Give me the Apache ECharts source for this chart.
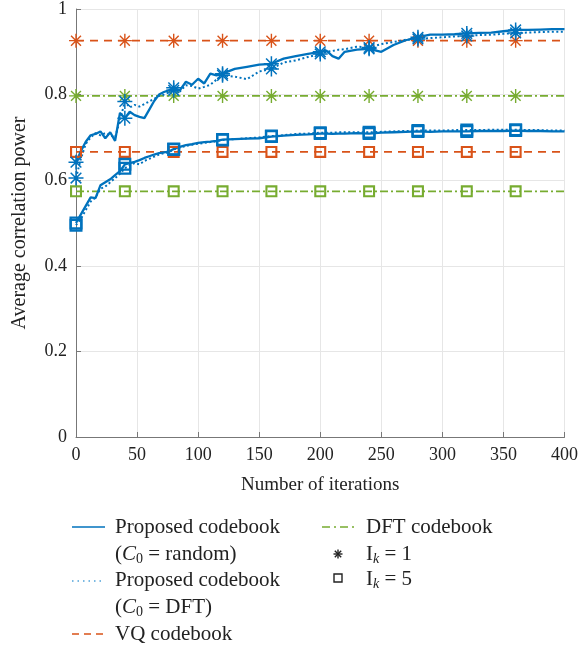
<!DOCTYPE html>
<html>
<head>
<meta charset="utf-8">
<script src="https://cdn.jsdelivr.net/npm/echarts@6/dist/echarts.min.js"></script>
<style>
  html, body { margin: 0; padding: 0; background: #fff; }
  #main { width: 581px; height: 647px; }
</style>
</head>
<body>
<div id="main"></div>
<script>
// iterations at which the proposed-codebook curves are sampled
var iters = [0, 4, 8, 12, 16, 20, 24, 28, 32, 36, 40, 44, 48, 52, 56, 60, 64, 68, 72, 76,
  80, 85, 90, 95, 100, 105, 110, 115, 120, 130, 140, 150, 160, 170, 180, 190, 200,
  205, 210, 215, 220, 230, 240, 250, 260, 270, 280, 290, 300, 310, 320, 330, 340,
  350, 360, 370, 380, 390, 400];

// proposed codebook, C0 = random, Ik = 1
var randomIk1 = [0.642, 0.668, 0.69, 0.705, 0.708, 0.714, 0.698, 0.712, 0.692, 0.757,
  0.745, 0.76, 0.752, 0.748, 0.745, 0.765, 0.785, 0.8, 0.806, 0.81,
  0.816, 0.81, 0.83, 0.823, 0.837, 0.826, 0.849, 0.845, 0.849, 0.86, 0.865, 0.87,
  0.872, 0.884, 0.89, 0.895, 0.9, 0.903, 0.89, 0.884, 0.9, 0.905, 0.907, 0.9,
  0.916, 0.927, 0.934, 0.94, 0.94, 0.941, 0.943, 0.944, 0.945, 0.948, 0.951,
  0.951, 0.952, 0.953, 0.953];
// proposed codebook, C0 = DFT, Ik = 1
var dftIk1 = [0.605, 0.65, 0.685, 0.7, 0.71, 0.705, 0.71, 0.705, 0.7, 0.74,
  0.784, 0.77, 0.776, 0.772, 0.778, 0.784, 0.79, 0.797, 0.8, 0.805,
  0.81, 0.807, 0.822, 0.82, 0.814, 0.818, 0.823, 0.835, 0.845, 0.842, 0.836, 0.854,
  0.86, 0.875, 0.88, 0.888, 0.895, 0.9, 0.902, 0.905, 0.906, 0.912, 0.91, 0.918,
  0.923, 0.928, 0.93, 0.932, 0.934, 0.936, 0.937, 0.939, 0.94, 0.942, 0.944,
  0.945, 0.946, 0.947, 0.947];
// proposed codebook, C0 = random, Ik = 5
var randomIk5 = [0.5, 0.52, 0.54, 0.56, 0.558, 0.588, 0.595, 0.602, 0.612, 0.621,
  0.637, 0.64, 0.643, 0.647, 0.652, 0.656, 0.66, 0.663, 0.665, 0.667,
  0.673, 0.678, 0.682, 0.684, 0.687, 0.689, 0.69, 0.692, 0.695, 0.696, 0.697, 0.698,
  0.702, 0.704, 0.706, 0.707, 0.709, 0.709, 0.708, 0.709, 0.709, 0.71, 0.709, 0.711,
  0.712, 0.713, 0.714, 0.713, 0.714, 0.714, 0.714, 0.715, 0.715, 0.715, 0.716,
  0.715, 0.715, 0.714, 0.714];
// proposed codebook, C0 = DFT, Ik = 5
var dftIk5 = [0.495, 0.51, 0.53, 0.55, 0.56, 0.58, 0.585, 0.595, 0.605, 0.615,
  0.628, 0.635, 0.64, 0.637, 0.645, 0.65, 0.655, 0.66, 0.663, 0.665,
  0.672, 0.676, 0.68, 0.683, 0.685, 0.687, 0.689, 0.691, 0.694, 0.696, 0.698, 0.7,
  0.703, 0.705, 0.708, 0.709, 0.711, 0.711, 0.711, 0.712, 0.712, 0.712, 0.712, 0.713,
  0.714, 0.715, 0.716, 0.716, 0.716, 0.717, 0.717, 0.717, 0.718, 0.718, 0.718,
  0.717, 0.717, 0.716, 0.716];

// flat baselines
var constIters = [0, 40, 80, 120, 160, 200, 240, 280, 320, 360, 400];
var vqIk1 = 0.926, vqIk5 = 0.666, dftCbIk1 = 0.797, dftCbIk5 = 0.574;

var xTicks = [0, 50, 100, 150, 200, 250, 300, 350, 400];
var yTicks = [0, 0.2, 0.4, 0.6, 0.8, 1];

var BLUE = '#0072BD', ORANGE = '#D95319', GREEN = '#77AC30';
var FONT = 'Liberation Serif';

var STAR = 'path://M9,0L11,0L11,20L9,20Z M0,9L20,9L20,11L0,11Z ' +
  'M3.6,2.2L17.8,16.4L16.4,17.8L2.2,3.6Z M16.4,2.2L17.8,3.6L3.6,17.8L2.2,16.4Z';
var SQUARE = 'path://M0,0L20,0L20,20L0,20Z M3.5,3.5L3.5,16.5L16.5,16.5L16.5,3.5Z';

function pairs(xs, ys) {
  return xs.map(function (x, i) { return [x, Array.isArray(ys) ? ys[i] : ys]; });
}
function markerAt(shape) {
  return function (v) { return (v[0] % 40 === 0 && v[0] < 400) ? shape : 'none'; };
}
function lineSeries(data, color, type, width, shape, size) {
  return {
    type: 'line', data: data, showAllSymbol: true,
    symbol: markerAt(shape), symbolSize: size,
    lineStyle: { color: color, width: width, type: type },
    itemStyle: { color: color },
    emphasis: { disabled: true }, silent: true
  };
}

var series = [
  lineSeries(pairs(constIters, dftCbIk5), GREEN, [8, 3, 2, 3], 1.8, SQUARE, 12),
  lineSeries(pairs(constIters, dftCbIk1), GREEN, [8, 3, 2, 3], 1.8, STAR, 14),
  lineSeries(pairs(constIters, vqIk5), ORANGE, [8, 6], 1.8, SQUARE, 12),
  lineSeries(pairs(constIters, vqIk1), ORANGE, [8, 6], 1.8, STAR, 14),
  lineSeries(pairs(iters, dftIk5), BLUE, [2, 2.5], 2, SQUARE, 13),
  lineSeries(pairs(iters, randomIk5), BLUE, 'solid', 2.3, SQUARE, 13),
  lineSeries(pairs(iters, dftIk1), BLUE, [2, 2.5], 2, STAR, 15),
  lineSeries(pairs(iters, randomIk1), BLUE, 'solid', 2.3, STAR, 15)
];

var LF = 21;
var rich = {
  n: { fontFamily: FONT, fontSize: LF, lineHeight: 25, fill: '#222' },
  i: { fontFamily: FONT, fontSize: LF, lineHeight: 25, fontStyle: 'italic', fill: '#222' },
  s: { fontFamily: FONT, fontSize: 14, lineHeight: 14, verticalAlign: 'bottom', fill: '#222' },
  si: { fontFamily: FONT, fontSize: 14, lineHeight: 14, fontStyle: 'italic', verticalAlign: 'bottom', fill: '#222' }
};
function label(x, y, text) {
  return { type: 'text', x: x, y: y, silent: true,
    style: { text: text, rich: rich, fontFamily: FONT, fontSize: LF, fill: '#222', verticalAlign: 'middle' } };
}
function key(x1, x2, y, color, dash) {
  return { type: 'line', silent: true, shape: { x1: x1, y1: y, x2: x2, y2: y },
    style: { stroke: color, lineWidth: 1.5, lineDash: dash } };
}
// small asterisk used as legend key
function asterisk(cx, cy, r) {
  var d = r * 0.707;
  var segs = [[-r, 0, r, 0], [0, -r, 0, r], [-d, -d, d, d], [-d, d, d, -d]];
  return segs.map(function (s) {
    return { type: 'line', silent: true,
      shape: { x1: cx + s[0], y1: cy + s[1], x2: cx + s[2], y2: cy + s[3] },
      style: { stroke: '#222', lineWidth: 1.4 } };
  });
}

var graphics = [
  key(72, 105, 527, BLUE, null),
  label(115, 527, '{n|Proposed codebook}'),
  label(115, 554, '{n|(}{i|C}{s|0}{n| = random)}'),
  key(72, 105, 581, '#4fa3d9', [1.5, 4]),
  label(115, 580, '{n|Proposed codebook}'),
  label(115, 607, '{n|(}{i|C}{s|0}{n| = DFT)}'),
  key(72, 105, 634, ORANGE, [7, 5]),
  label(115, 634, '{n|VQ codebook}'),
  key(322, 357, 527, GREEN, [8, 4, 2, 4]),
  label(366, 527, '{n|DFT codebook}'),
  label(366, 554, '{n|I}{si|k}{n| = 1}'),
  { type: 'rect', silent: true, shape: { x: 334, y: 574, width: 8, height: 8 },
    style: { fill: 'none', stroke: '#222', lineWidth: 1.4 } },
  label(366, 579, '{n|I}{si|k}{n| = 5}')
].concat(asterisk(338, 554, 4.5));

var chart = echarts.init(document.getElementById('main'));
chart.setOption({
  animation: false,
  backgroundColor: '#fff',
  textStyle: { fontFamily: FONT },
  grid: { left: 76, right: 13, top: 7, bottom: 210 },
  xAxis: {
    type: 'value', min: 0, max: 400, interval: 50,
    name: 'Number of iterations', nameLocation: 'middle', nameGap: 39,
    nameTextStyle: { fontFamily: FONT, fontSize: 19, color: '#222' },
    axisLine: { lineStyle: { color: '#777', width: 1 } },
    axisTick: { inside: true, length: 5, lineStyle: { color: '#777' } },
    axisLabel: { fontFamily: FONT, fontSize: 18, color: '#222', margin: 9,
      formatter: function (v) { return xTicks.indexOf(v) >= 0 ? String(v) : ''; } },
    splitLine: { show: true, lineStyle: { color: '#e6e6e6' } }
  },
  yAxis: {
    type: 'value', min: 0, max: 1, interval: 0.2,
    name: 'Average correlation power', nameLocation: 'middle', nameGap: 46,
    nameTextStyle: { fontFamily: FONT, fontSize: 20, color: '#222' },
    axisLine: { show: true, lineStyle: { color: '#777', width: 1 } },
    axisTick: { show: true, inside: true, length: 5, lineStyle: { color: '#777' } },
    axisLabel: { fontFamily: FONT, fontSize: 18, color: '#222', margin: 9,
      formatter: function (v) {
        var t = yTicks.filter(function (k) { return Math.abs(k - v) < 1e-9; });
        return t.length ? String(Math.round(t[0] * 10) / 10) : '';
      } },
    splitLine: { show: true, lineStyle: { color: '#e6e6e6' } }
  },
  series: series,
  graphic: graphics
});
</script>
</body>
</html>
